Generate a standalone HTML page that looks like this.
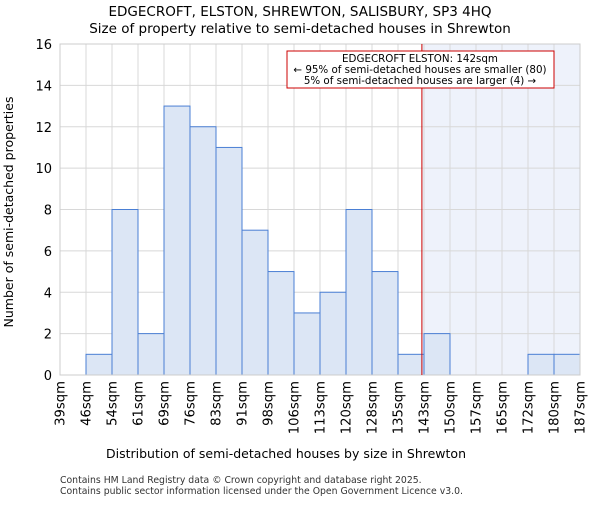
<!DOCTYPE html>
<html><head><meta charset="utf-8"><style>body{margin:0;background:#fff}svg{font-family:"DejaVu Sans","Liberation Sans",sans-serif}</style></head>
<body>
<svg id="chart" width="600" height="500">
<text x="300" y="16" text-anchor="middle" font-size="13.5">EDGECROFT, ELSTON, SHREWTON, SALISBURY, SP3 4HQ</text>
<text x="300" y="33" text-anchor="middle" font-size="13.5">Size of property relative to semi-detached houses in Shrewton</text>
<g id="plot"></g>
<text x="286" y="458" text-anchor="middle" font-size="12.5">Distribution of semi-detached houses by size in Shrewton</text>
<text transform="translate(13,212) rotate(-90)" text-anchor="middle" font-size="12.5">Number of semi-detached properties</text>
<text x="60" y="483" font-size="9.3" fill="#333">Contains HM Land Registry data © Crown copyright and database right 2025.</text>
<text x="60" y="494" font-size="9.3" fill="#333">Contains public sector information licensed under the Open Government Licence v3.0.</text>
</svg>
<script>
const binLabels=["39sqm","46sqm","54sqm","61sqm","69sqm","76sqm","83sqm","91sqm","98sqm","106sqm","113sqm","120sqm","128sqm","135sqm","143sqm","150sqm","157sqm","165sqm","172sqm","180sqm","187sqm"];
const counts=[0,1,8,2,13,12,11,7,5,3,4,8,5,1,2,0,0,0,1,1];
const yTicks=[0,2,4,6,8,10,12,14,16];
const minSize=39, maxSize=187, propertySize=142;
const L=60,R=580,T=44,B=375,yMax=16;
const NS="http://www.w3.org/2000/svg";
const g=document.getElementById('plot');
const n=counts.length;
const xb=i=>L+(R-L)*i/n;
const xs=v=>L+(R-L)*(v-minSize)/(maxSize-minSize);
const y=v=>B-(B-T)*v/yMax;
function mk(t,a){const e=document.createElementNS(NS,t);for(const k in a)e.setAttribute(k,a[k]);g.appendChild(e);return e;}
const px=xs(propertySize);
let sh=mk('rect',{x:px,y:T,width:R-px,height:B-T,fill:'#eef2fb'});


for(let i=0;i<=n;i++){let l=mk('line',{x1:xb(i),x2:xb(i),y1:T,y2:B,stroke:'#d8d8d8'});

}
yTicks.forEach(v=>{let l=mk('line',{x1:L,x2:R,y1:y(v),y2:y(v),stroke:'#d8d8d8'});


let t=mk('text',{x:L-8,y:y(v)+5,'text-anchor':'end','font-size':'13'});t.textContent=v;

});
counts.forEach((c,i)=>{if(!c)return;let r=mk('rect',{x:xb(i),y:y(c),width:xb(i+1)-xb(i),height:B-y(c),fill:'#dce6f5',stroke:'#4a7fd4','stroke-width':1});

});
binLabels.forEach((s,i)=>{let x=xb(i);let t=mk('text',{transform:`translate(${x+4.5},${B+6}) rotate(-90)`,'text-anchor':'end','font-size':'13.2'});t.textContent=s;

});
let ax=mk('rect',{x:L,y:T,width:R-L,height:B-T,fill:'none',stroke:'#ccc'});


let rl=mk('line',{x1:px,x2:px,y1:T,y2:B,stroke:'#cc0000','stroke-width':1});


let bx=mk('rect',{x:287,y:51,width:267,height:37,fill:'#fff',stroke:'#cc0000'});


["EDGECROFT ELSTON: 142sqm","← 95% of semi-detached houses are smaller (80)","5% of semi-detached houses are larger (4) →"].forEach((s,i)=>{let t=mk('text',{x:420,y:62+i*11,'text-anchor':'middle','font-size':'10.3'});t.textContent=s;

});
</script>
</body></html>
